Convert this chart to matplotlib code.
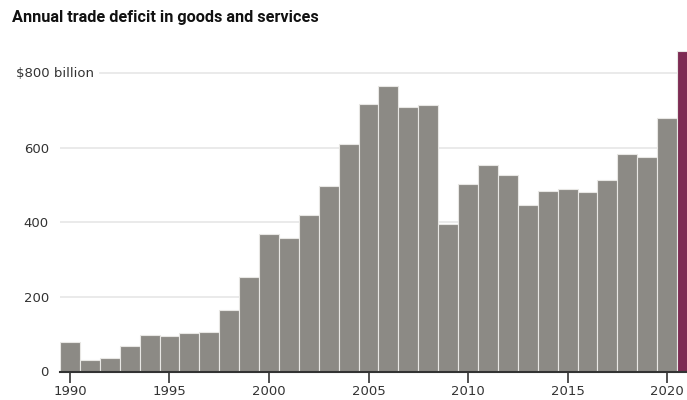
import matplotlib
matplotlib.use("Agg")
import matplotlib.pyplot as plt
import matplotlib.transforms as mtransforms

years = list(range(1990, 2022))
deficit = [78, 30, 37, 69, 97, 94, 104, 107, 164, 253,
           369, 359, 420, 497, 611, 718, 765, 710, 714, 396,
           503, 554, 526, 446, 484, 490, 481, 513, 583, 576,
           679, 861]
highlight_year = 2021
ytick_values = [0, 200, 400, 600]
ytick_labels = ["0", "200", "400", "600"]
top_label_value = 800
top_label = "$800 billion"
xtick_values = [1990, 1995, 2000, 2005, 2010, 2015, 2020]
title = "Annual trade deficit in goods and services"

W, H = 687, 400
fig = plt.figure(figsize=(W / 100, H / 100), dpi=100)
ax_left = 60 / W
ax_bottom = (H - 371.5) / H
ax_top = (H - 36.1) / H
ax = fig.add_axes([ax_left, ax_bottom, 1 - ax_left, ax_top - ax_bottom])

gray = "#8c8a85"
maroon = "#7d2a52"
colors = [maroon if y == highlight_year else gray for y in years]
ax.bar(years, deficit, width=1.0, color=colors, edgecolor="#e8e7e4",
       linewidth=0.8, zorder=3)

ax.set_xlim(1989.5, 2021.0)
ax.set_ylim(0, 900)

# gridlines
for v in ytick_values[1:]:
    ax.axhline(v, color="#e6e6e6", linewidth=1.2, zorder=1)
ax.axhline(top_label_value, xmin=(100 - 60) / (W - 60), color="#e6e6e6",
           linewidth=1.2, zorder=1)

for s in ["top", "right", "left"]:
    ax.spines[s].set_visible(False)
ax.spines["bottom"].set_color("#333333")
ax.spines["bottom"].set_linewidth(1.5)
ax.spines["bottom"].set_zorder(4)

ax.set_yticks(ytick_values)
ax.set_yticklabels(ytick_labels)
ax.tick_params(axis="y", length=0, pad=8, labelsize=9.5, labelcolor="#333333")
ax.set_xticks(xtick_values)
ax.set_xticklabels([str(x) for x in xtick_values])
ax.tick_params(axis="x", length=8, width=1.2, color="#333333", pad=2,
               labelsize=9.5, labelcolor="#333333")

trans = mtransforms.blended_transform_factory(fig.transFigure, ax.transData)
ax.text(16 / W, top_label_value, top_label, transform=trans, ha="left",
        va="center", fontsize=9.5, color="#333333")

fig.text(12 / W, 1 - 10 / H, title, ha="left", va="top", fontsize=11.7,
         fontweight="bold", color="#111111", family="Roboto")

fig.savefig("out.png", dpi=100)
